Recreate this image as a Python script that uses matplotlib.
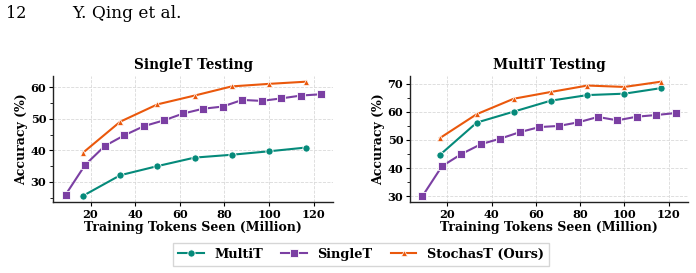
import matplotlib
matplotlib.use("Agg")
import matplotlib.pyplot as plt
from matplotlib.ticker import MultipleLocator

# ---- data ----
x_coarse = [16.7, 33.3, 50.0, 66.7, 83.3, 100.0, 116.7]
x_fine = [8.8, 17.6, 26.4, 35.2, 44.0, 52.8, 61.6, 70.4, 79.2, 88.0, 96.8, 105.6, 114.4, 123.2]

single_multit = [25.6, 32.1, 35.0, 37.7, 38.6, 39.7, 40.9]
single_singlet = [25.9, 35.4, 41.4, 44.8, 47.7, 49.5, 51.7, 53.2, 53.9, 56.0, 55.7, 56.5, 57.4, 57.8]
single_stochast = [39.3, 49.1, 54.6, 57.4, 60.3, 61.1, 61.8]

multi_multit = [44.7, 56.2, 60.1, 64.0, 66.0, 66.5, 68.5]
multi_singlet = [30.0, 40.65, 45.0, 48.5, 50.5, 52.8, 54.6, 55.0, 56.3, 58.2, 57.0, 58.3, 58.9, 59.6]
multi_stochast = [50.7, 59.2, 64.7, 67.1, 69.4, 68.9, 70.8]

titles = ["SingleT Testing", "MultiT Testing"]
series_names = ["MultiT", "SingleT", "StochasT (Ours)"]
xlabel = "Training Tokens Seen (Million)"
ylabel = "Accuracy (%)"

c_green = "#058a7a"
c_purple = "#7b3fa3"
c_orange = "#ea580c"

plt.rcParams["font.family"] = "DejaVu Serif"
plt.rcParams["font.weight"] = "bold"

fig = plt.figure(figsize=(6.96, 2.73), dpi=100)
W, H = 696, 273
def add_ax(l, r, t, b):
    return fig.add_axes([l / W, 1 - b / H, (r - l) / W, (b - t) / H])

ax1 = add_ax(53.3, 333, 76, 201.7)
ax2 = add_ax(410.3, 688, 76, 201.7)

panels = [
    (ax1, single_multit, single_singlet, single_stochast, 10),
    (ax2, multi_multit, multi_singlet, multi_stochast, 10),
]
for i, (ax, m, s, st, step) in enumerate(panels):
    ax.plot(x_coarse, m, color=c_green, lw=1.5, marker="o", ms=5.2,
            mec="white", mew=0.6, label=series_names[0], zorder=3)
    ax.plot(x_fine, s, color=c_purple, lw=1.5, marker="s", ms=5.2,
            mec="white", mew=0.6, label=series_names[1], zorder=3)
    ax.plot(x_coarse, st, color=c_orange, lw=1.5, marker="^", ms=4.2,
            mec="white", mew=0.5, label=series_names[2], zorder=3)
    ax.set_title(titles[i], fontsize=9.8, fontweight="bold", pad=5)
    ax.set_xlabel(xlabel, fontsize=9, fontweight="bold", labelpad=1)
    ax.set_ylabel(ylabel, fontsize=9, fontweight="bold", labelpad=2)
    ax.xaxis.set_major_locator(MultipleLocator(20))
    ax.yaxis.set_major_locator(MultipleLocator(step))
    ax.yaxis.set_minor_locator(MultipleLocator(step / 2))
    ax.grid(True, which="major", linestyle="--", linewidth=0.6, color="#d9d9d9")
    ax.set_axisbelow(True)
    for sp in ["top", "right"]:
        ax.spines[sp].set_visible(False)
    for sp in ["left", "bottom"]:
        ax.spines[sp].set_linewidth(1.0)
        ax.spines[sp].set_color("#222222")
    ax.tick_params(axis="both", which="major", labelsize=8.2, length=3, width=0.8, pad=2)
    ax.tick_params(axis="y", which="minor", length=2, width=0.6)
    for lab in ax.get_xticklabels() + ax.get_yticklabels():
        lab.set_fontweight("bold")

ax1.set_xlim(3.3, 128.7)
ax1.set_ylim(23.7, 63.6)
ax2.set_xlim(3.3, 128.7)
ax2.set_ylim(28.0, 72.8)

handles, labels = ax1.get_legend_handles_labels()
fig.legend(handles, labels, loc="center", bbox_to_anchor=(361 / W, 1 - 254.5 / H),
           ncol=3, frameon=True, prop={"weight": "bold", "size": 9.3},
           fancybox=False, edgecolor="#cccccc", handlelength=2.0, columnspacing=1.4,
           handletextpad=0.8, borderpad=0.4)

fig.text(6 / W, 1 - 13 / H, "12", fontsize=11.5, fontweight="normal",
         family="DejaVu Serif", va="center", ha="left")
fig.text(72 / W, 1 - 13 / H, "Y. Qing et al.", fontsize=12.2, fontweight="normal",
         family="DejaVu Serif", va="center", ha="left")

fig.savefig("out.png", dpi=100)
